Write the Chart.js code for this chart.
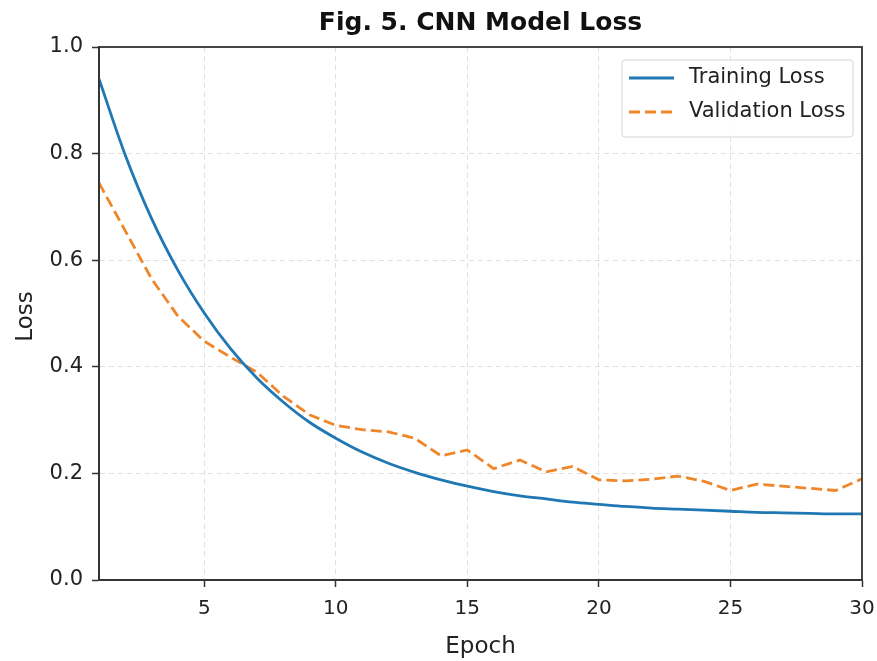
<!DOCTYPE html>
<html>
<head>
<meta charset="utf-8">
<script src="https://cdn.jsdelivr.net/npm/chart.js@4.4.0/dist/chart.umd.min.js"></script>
<style>
  body { margin: 0; background: #fff; }
  #wrap { width: 877px; height: 661px; position: relative; }
</style>
</head>
<body>
<div id="wrap"><canvas id="myChart"></canvas></div>
<script>
const epochs = [1,2,3,4,5,6,7,8,9,10,11,12,13,14,15,16,17,18,19,20,21,22,23,24,25,26,27,28,29,30]
const training_loss = [0.94,0.797,0.678,0.581,0.501,0.434,0.379,0.334,0.296,0.266,0.240,0.219,0.202,0.188,0.176,0.166,0.158,0.152,0.146,0.142,0.138,0.135,0.133,0.131,0.129,0.127,0.126,0.125,0.124,0.124]
const validation_loss = [0.745,0.655,0.565,0.495,0.448,0.418,0.39,0.345,0.31,0.29,0.282,0.278,0.266,0.233,0.244,0.209,0.225,0.203,0.213,0.188,0.186,0.189,0.195,0.185,0.168,0.18,0.176,0.172,0.168,0.19]
const x_ticks = [5,10,15,20,25,30]
const series_names = ['Training Loss', 'Validation Loss']

const fontFam = "'DejaVu Sans', sans-serif"
const ctx = document.getElementById('myChart')

// title, axis labels, frame and legend drawn by hand
const extras = {
    id: 'extras',
    afterDraw(chart) {
        const c = chart.ctx
        const a = chart.chartArea
        c.save()
        c.strokeStyle = '#333'
        c.lineWidth = 1.8
        c.strokeRect(a.left, a.top, a.right - a.left, a.bottom - a.top)

        c.fillStyle = '#111'
        c.textAlign = 'center'
        c.textBaseline = 'alphabetic'
        c.font = "bold 25px " + fontFam
        c.fillText('Fig. 5. CNN Model Loss', (a.left + a.right) / 2, 30)

        c.font = "23px " + fontFam
        c.fillStyle = '#222'
        c.fillText('Epoch', (a.left + a.right) / 2, 653)
        c.save()
        c.translate(32, (a.top + a.bottom) / 2 + 3)
        c.rotate(-Math.PI / 2)
        c.fillText('Loss', 0, 0)
        c.restore()

        // legend
        const bx = 622, by = 60, bw = 231, bh = 77
        c.fillStyle = 'rgba(255,255,255,0.85)'
        c.strokeStyle = '#d4d4d4'
        c.lineWidth = 1
        c.beginPath()
        c.roundRect(bx, by, bw, bh, 3)
        c.fill()
        c.stroke()
        chart.data.datasets.forEach((ds, i) => {
            const yy = by + 18 + i * 34
            c.strokeStyle = ds.borderColor
            c.lineWidth = ds.borderWidth
            c.setLineDash(ds.borderDash || [])
            c.beginPath()
            c.moveTo(bx + 7, yy)
            c.lineTo(bx + 52, yy)
            c.stroke()
            c.setLineDash([])
            c.fillStyle = '#222'
            c.textAlign = 'left'
            c.textBaseline = 'middle'
            c.font = "21px " + fontFam
            c.fillText(ds.label, bx + 67, yy)
        })
        c.restore()
    }
}

new Chart(ctx, {
    type: 'line',
    data: {
        datasets: [{
            label: series_names[0],
            data: epochs.map((e, i) => ({ x: e, y: training_loss[i] })),
            borderColor: '#1f77b4',
            borderWidth: 2.8,
            pointRadius: 0,
            cubicInterpolationMode: 'monotone'
        }, {
            label: series_names[1],
            data: epochs.map((e, i) => ({ x: e, y: validation_loss[i] })),
            borderColor: '#f0862a',
            borderWidth: 2.8,
            borderDash: [11, 5],
            pointRadius: 0,
            tension: 0
        }]
    },
    options: {
        responsive: true,
        maintainAspectRatio: false,
        animation: false,
        layout: { padding: { top: 47, right: 15, left: 0, bottom: 0 } },
        plugins: {
            legend: { display: false },
            title: { display: false },
            tooltip: { enabled: false }
        },
        scales: {
            x: {
                type: 'linear',
                min: 1,
                max: 30,
                afterBuildTicks: (scale) => { scale.ticks = x_ticks.map(v => ({ value: v })) },
                afterFit: (scale) => {
                    scale.height = 81
                    scale.paddingRight = 12
                    scale.paddingLeft = 0
                },
                grid: {
                    color: '#e0e0e0',
                    tickColor: '#333',
                    tickBorderDash: [],
                    tickLength: 7,
                    tickWidth: 1.5
                },
                border: { display: true, color: '#333', width: 1.8, dash: [5, 4] },
                ticks: {
                    color: '#222',
                    font: { family: fontFam, size: 20 },
                    padding: 10,
                    maxRotation: 0,
                    callback: (v) => v
                }
            },
            y: {
                min: 0,
                max: 1,
                afterFit: (scale) => { scale.width = 99 },
                grid: {
                    color: '#e0e0e0',
                    tickColor: '#333',
                    tickBorderDash: [],
                    tickLength: 7,
                    tickWidth: 1.5
                },
                border: { display: true, color: '#333', width: 1.8, dash: [5, 4] },
                ticks: {
                    stepSize: 0.2,
                    color: '#222',
                    font: { family: fontFam, size: 21 },
                    padding: 9,
                    callback: (v) => v.toFixed(1)
                }
            }
        }
    },
    plugins: [extras]
})
</script>
</body>
</html>
